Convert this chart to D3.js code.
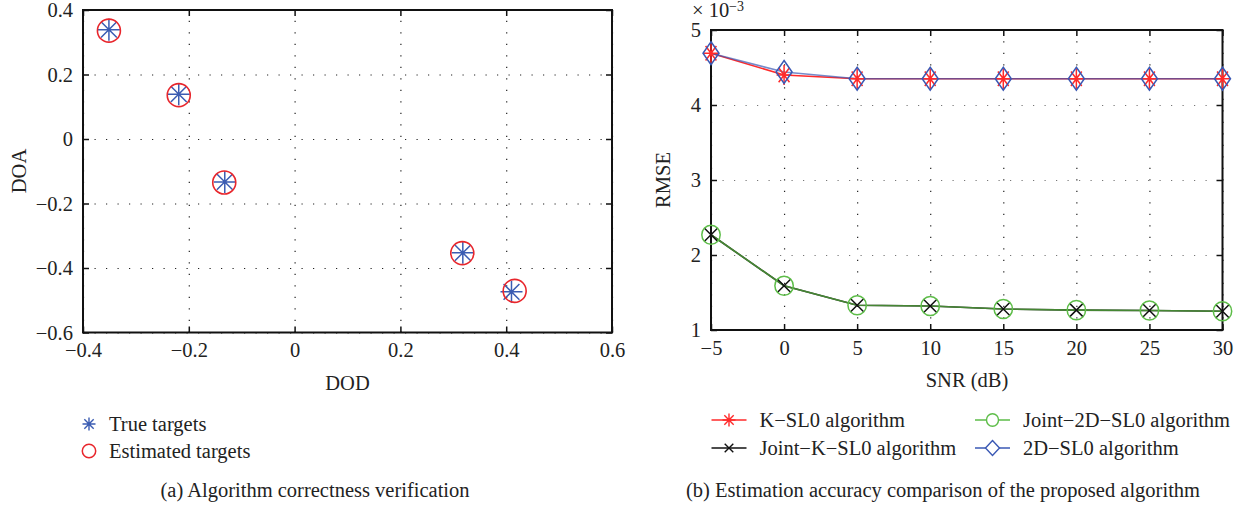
<!DOCTYPE html>
<html>
<head>
<meta charset="utf-8">
<script src="https://cdn.jsdelivr.net/npm/d3@7"></script>
<style>
	body { margin: 0; background: #fff; }
	svg { display: block; }
	svg text { font-family: "Liberation Serif", "Times New Roman", serif !important; fill: #222; }
</style>
</head>
<body>
<div id="chart"></div>
<script>

// (a) target positions
let trueDOD = [-0.351, -0.219, -0.132, 0.318, 0.410]
let trueDOA = [0.339, 0.139, -0.133, -0.353, -0.474]
let estDOD = [-0.351, -0.219, -0.133, 0.317, 0.416]
let estDOA = [0.336, 0.136, -0.135, -0.354, -0.471]

let dodTicks = [-0.4, -0.2, 0, 0.2, 0.4, 0.6]
let doaTicks = [-0.6, -0.4, -0.2, 0, 0.2, 0.4]

// (b) RMSE vs SNR (x 10^-3)
let snr = [-5, 0, 5, 10, 15, 20, 25, 30]
let kSL0 = [4.69, 4.40, 4.35, 4.35, 4.35, 4.35, 4.35, 4.35]
let jointKSL0 = [2.27, 1.59, 1.33, 1.32, 1.28, 1.265, 1.26, 1.25]
let joint2DSL0 = [2.27, 1.59, 1.33, 1.32, 1.28, 1.265, 1.26, 1.25]
let twoDSL0 = [4.69, 4.44, 4.35, 4.35, 4.35, 4.35, 4.35, 4.35]

let snrTicks = [-5, 0, 5, 10, 15, 20, 25, 30]
let rmseTicks = [1, 2, 3, 4, 5]

let seriesNames = ['K\u2212SL0 algorithm', 'Joint\u2212K\u2212SL0 algorithm', 'Joint\u22122D\u2212SL0 algorithm', '2D\u2212SL0 algorithm']

const width = 1254
const height = 506
const fs = 20.5

const svg = d3.select('#chart')
	.append('svg')
	.attr('width', width)
	.attr('height', height)

function fmt(d){
	return d < 0 ? '\u2212' + Math.abs(d) : '' + d
}

// matlab style box with dotted grid and inward ticks
function drawFrame(x, y, xTicks, yTicks, hGridColor){

	let x0 = x.range()[0], x1 = x.range()[1]
	let y0 = y.range()[0], y1 = y.range()[1]

	let g = svg.append('g')

	g.append('g')
		.attr('transform', `translate(0,${y0})`)
		.call(d3.axisBottom(x).tickValues(xTicks).tickSize(-(y0 - y1)).tickFormat(''))
		.call(g => g.select('.domain').remove())
		.selectAll('line')
		.attr('stroke', '#222')
		.attr('stroke-width', 1.2)
		.attr('stroke-dasharray', '1.2,10.3')

	g.append('g')
		.attr('transform', `translate(${x0},0)`)
		.call(d3.axisLeft(y).tickValues(yTicks).tickSize(-(x1 - x0)).tickFormat(''))
		.call(g => g.select('.domain').remove())
		.selectAll('line')
		.attr('stroke', hGridColor)
		.attr('stroke-width', 1.2)
		.attr('stroke-dasharray', '1.2,10.3')

	let tk = 6

	let bottom = g.append('g')
		.attr('transform', `translate(0,${y0})`)
		.call(d3.axisBottom(x).tickValues(xTicks).tickSize(-tk).tickPadding(10).tickFormat(fmt))

	let top = g.append('g')
		.attr('transform', `translate(0,${y1})`)
		.call(d3.axisTop(x).tickValues(xTicks).tickSize(-tk).tickFormat(''))

	let left = g.append('g')
		.attr('transform', `translate(${x0},0)`)
		.call(d3.axisLeft(y).tickValues(yTicks).tickSize(-tk).tickPadding(10).tickFormat(fmt))

	let right = g.append('g')
		.attr('transform', `translate(${x1},0)`)
		.call(d3.axisRight(y).tickValues(yTicks).tickSize(-tk).tickFormat(''))

	;[bottom, top, left, right].forEach(function(a){
		a.attr('font-family', null).attr('font-size', null)
		a.select('.domain').remove()
		a.selectAll('line').attr('stroke', '#111').attr('stroke-width', 1.5)
		a.selectAll('text')
			.style('font-size', fs + 'px')
			.attr('fill', '#222')
	})

	g.append('rect')
		.attr('x', x0)
		.attr('y', y1)
		.attr('width', x1 - x0)
		.attr('height', y0 - y1)
		.attr('fill', 'none')
		.attr('stroke', '#111')
		.attr('stroke-width', 2)

	return g
}

function asterisk(rx, ry){
	let dx = rx * 0.72, dy = ry * 0.72
	return `M${-rx},0L${rx},0M0,${-ry}L0,${ry}M${-dx},${-dy}L${dx},${dy}M${-dx},${dy}L${dx},${-dy}`
}

function cross(r){
	return `M${-r},${-r}L${r},${r}M${-r},${r}L${r},${-r}`
}

function diamond(rx, ry){
	return `M0,${-ry}L${rx},0L0,${ry}L${-rx},0Z`
}

// ---------- (a) ----------

let xa = d3.scaleLinear().domain([-0.4, 0.6]).range([83, 612])
let ya = d3.scaleLinear().domain([-0.6, 0.4]).range([332.5, 10])

drawFrame(xa, ya, dodTicks, doaTicks, '#222')

let blueA = '#3b5cb2'
let redA = '#e8262c'

svg.append('g')
	.selectAll('path')
	.data(trueDOD)
	.enter()
	.append('path')
	.attr('transform', (d, i) => `translate(${xa(d)},${ya(trueDOA[i])})`)
	.attr('d', asterisk(11, 11))
	.attr('stroke', blueA)
	.attr('stroke-width', 1.5)
	.attr('fill', 'none')

svg.append('g')
	.selectAll('circle')
	.data(estDOD)
	.enter()
	.append('circle')
	.attr('cx', d => xa(d))
	.attr('cy', (d, i) => ya(estDOA[i]))
	.attr('r', 11.5)
	.attr('stroke', redA)
	.attr('stroke-width', 1.6)
	.attr('fill', 'none')

svg.append('text')
	.attr('x', 347.5)
	.attr('y', 390)
	.attr('text-anchor', 'middle')
	.attr('font-size', fs)
	.text('DOD')

svg.append('text')
	.attr('transform', 'translate(26,171) rotate(-90)')
	.attr('text-anchor', 'middle')
	.attr('font-size', fs)
	.text('DOA')

// legend (a)
svg.append('path')
	.attr('transform', 'translate(89,424)')
	.attr('d', asterisk(6.5, 6.5))
	.attr('stroke', blueA)
	.attr('stroke-width', 1.4)

svg.append('circle')
	.attr('cx', 89)
	.attr('cy', 451)
	.attr('r', 6.7)
	.attr('stroke', redA)
	.attr('stroke-width', 1.5)
	.attr('fill', 'none')

svg.append('text').attr('x', 109).attr('y', 431).attr('font-size', fs).text('True targets')
svg.append('text').attr('x', 109).attr('y', 458).attr('font-size', fs).text('Estimated targets')

svg.append('text')
	.attr('x', 315)
	.attr('y', 497)
	.attr('text-anchor', 'middle')
	.attr('font-size', fs)
	.text('(a) Algorithm correctness verification')

// ---------- (b) ----------

let xb = d3.scaleLinear().domain([-5, 30]).range([711, 1222.5])
let yb = d3.scaleLinear().domain([1, 5]).range([330, 30])

drawFrame(xb, yb, snrTicks, rmseTicks, '#777')

let red = '#ff2a2a'
let black = '#111'
let green = '#5dbd48'
let blue = '#3a58b4'

let line = d3.line()
	.x(d => xb(d[0]))
	.y(d => yb(d[1]))

let series = [
	{ name: seriesNames[0], values: kSL0, color: red, line: red, opacity: 1 },
	{ name: seriesNames[1], values: jointKSL0, color: black, line: black, opacity: 1 },
	{ name: seriesNames[2], values: joint2DSL0, color: green, line: '#4f9c3a', opacity: 0.85 },
	{ name: seriesNames[3], values: twoDSL0, color: blue, line: blue, opacity: 0.7 }
]

series.forEach(function(s){
	svg.append('path')
		.attr('d', line(snr.map((v, i) => [v, s.values[i]])))
		.attr('fill', 'none')
		.attr('stroke', s.line)
		.attr('stroke-opacity', s.opacity)
		.attr('stroke-width', 1.6)
})

function drawMarkers(values, shape, color, w){
	svg.append('g')
		.selectAll('path')
		.data(snr)
		.enter()
		.append('path')
		.attr('transform', (d, i) => `translate(${xb(d)},${yb(values[i])})`)
		.attr('d', shape)
		.attr('fill', 'none')
		.attr('stroke', color)
		.attr('stroke-width', w)
}

drawMarkers(kSL0, asterisk(7.5, 10), red, 1.5)
drawMarkers(jointKSL0, cross(6.5), black, 1.5)
drawMarkers(joint2DSL0, 'M-9.2,0A9.2,9.6 0 1,0 9.2,0A9.2,9.6 0 1,0 -9.2,0Z', green, 1.5)
drawMarkers(twoDSL0, diamond(8, 11.5), blue, 1.5)

svg.append('text')
	.attr('x', 967)
	.attr('y', 387)
	.attr('text-anchor', 'middle')
	.attr('font-size', fs)
	.text('SNR (dB)')

svg.append('text')
	.attr('transform', 'translate(670,180) rotate(-90)')
	.attr('text-anchor', 'middle')
	.attr('font-size', fs)
	.text('RMSE')

svg.append('text')
	.attr('x', 692)
	.attr('y', 17)
	.attr('font-size', fs)
	.text('\u00d7 10')

svg.append('text')
	.attr('x', 729)
	.attr('y', 10.5)
	.attr('font-size', 14)
	.text('\u22123')

// legend (b)
let legendPos = [[711.5, 420], [711.5, 448], [975, 420], [975, 448]]
let legendShape = [asterisk(6.5, 6.5), cross(4.3), 'M-6,0A6,6.3 0 1,0 6,0A6,6.3 0 1,0 -6,0Z', diamond(7, 7.5)]

series.forEach(function(s, i){
	let p = legendPos[i]
	let lg = svg.append('g').attr('transform', `translate(${p[0]},${p[1]})`)
	lg.append('line')
		.attr('x1', 0).attr('x2', 35)
		.attr('stroke', s.color)
		.attr('stroke-width', 1.5)
	lg.append('path')
		.attr('transform', 'translate(17.5,0)')
		.attr('d', legendShape[i])
		.attr('fill', i >= 2 ? '#fff' : 'none')
		.attr('stroke', s.color)
		.attr('stroke-width', 1.4)
	lg.append('text')
		.attr('x', 48)
		.attr('y', 7)
		.attr('font-size', fs)
		.text(s.name)
})

svg.append('text')
	.attr('x', 943)
	.attr('y', 497)
	.attr('text-anchor', 'middle')
	.attr('font-size', fs)
	.text('(b) Estimation accuracy comparison of the proposed algorithm')

</script>
</body>
</html>
